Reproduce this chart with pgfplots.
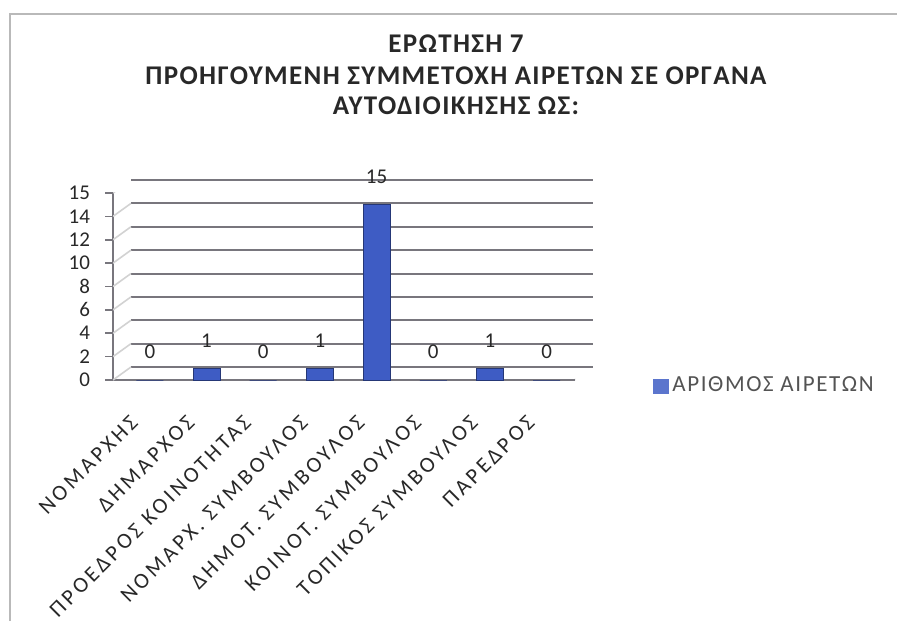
\documentclass[border=0pt]{standalone}
\usepackage{pgfplots}
\pgfplotsset{compat=1.18}
\usepackage{fontspec}
\setmainfont{Carlito}
\newfontfamily\titlefont[LetterSpace=5]{Carlito}
\newfontfamily\catfont[LetterSpace=15]{Carlito}
\newfontfamily\legfont[LetterSpace=7]{Carlito}
\definecolor{barblue}{RGB}{62,92,196}
\definecolor{gridgray}{RGB}{120,118,125}
\definecolor{txt}{RGB}{40,40,40}
\begin{document}
\begin{tikzpicture}[x=1pt,y=1pt]
\useasboundingbox (0,0) rectangle (448.5,310.5);
\draw[gray!55, line width=1pt] (5,0) -- (5,303.5) -- (448.5,303.5);
\node[font=\titlefont\fontsize{13.5}{15}\selectfont\bfseries, text=txt] at (228,288.5) {ΕΡΩΤΗΣΗ 7};
\node[font=\titlefont\fontsize{13.5}{15}\selectfont\bfseries, text=txt] at (228,272.5) {ΠΡΟΗΓΟΥΜΕΝΗ ΣΥΜΜΕΤΟΧΗ ΑΙΡΕΤΩΝ ΣΕ ΟΡΓΑΝΑ};
\node[font=\titlefont\fontsize{13.5}{15}\selectfont\bfseries, text=txt] at (228,257.5) {ΑΥΤΟΔΙΟΙΚΗΣΗΣ ΩΣ:};
\begin{axis}[
  at={(56.5pt,120.5pt)}, anchor=south west,
  scale only axis, width=231pt, height=93.5pt,
  xmin=-0.65, xmax=7.5, ymin=0, ymax=16,
  ytick={0,2,...,16}, yticklabels={0,2,4,6,8,10,12,14,15},
  xtick={0,...,7},
  xticklabels={ΝΟΜΑΡΧΗΣ, ΔΗΜΑΡΧΟΣ, ΠΡΟΕΔΡΟΣ ΚΟΙΝΟΤΗΤΑΣ, ΝΟΜΑΡΧ. ΣΥΜΒΟΥΛΟΣ, ΔΗΜΟΤ. ΣΥΜΒΟΥΛΟΣ, ΚΟΙΝΟΤ. ΣΥΜΒΟΥΛΟΣ, ΤΟΠΙΚΟΣ ΣΥΜΒΟΥΛΟΣ, ΠΑΡΕΔΡΟΣ},
  xticklabel style={rotate=45, anchor=north east, yshift=1.8pt, xshift=-13pt, font=\catfont\fontsize{11}{12}\selectfont, text=txt},
  yticklabel style={font=\fontsize{10.5}{11}\selectfont, text=txt, xshift=-4pt},
  /pgf/number format/assume math mode=true,
  axis x line*=bottom, axis y line*=left,
  axis line style={gridgray, line width=0.8pt},
  x axis line style={-}, y axis line style={-},
  xtick style={draw=none},
  ytick style={gridgray, line width=0.8pt},
  tick align=outside, major tick length=4pt,
  ymajorgrids, grid style={gridgray, line width=1pt, xshift=9pt, yshift=6.5pt},
  ybar, bar width=13.5pt,
  nodes near coords,
  every node near coord/.append style={font=\fontsize{10.5}{11}\selectfont, text=txt, yshift=7pt},
  legend style={at={(rel axis cs:1.167,-0.032)}, anchor=west, draw=none, fill=none, inner sep=0pt,
    font=\legfont\fontsize{11.5}{12}\selectfont, text=txt!80},
  legend image code/.code={\fill[barblue!85] (0pt,-3.5pt) rectangle (7.5pt,3.5pt);},
]
\addplot[fill=barblue, draw=barblue!60!black] coordinates {(0,0) (1,1) (2,0) (3,1) (4,15) (5,0) (6,1) (7,0)};
\addlegendentry{ΑΡΙΘΜΟΣ ΑΙΡΕΤΩΝ}
\draw[gridgray, line width=1pt] (axis cs:7.5,0) -- ([shift={(9pt,6.5pt)}]axis cs:7.5,0);
\pgfplotsinvokeforeach{0,2,...,16}{
  \draw[gray!35, line width=0.8pt] (axis cs:-0.65,#1) -- ([shift={(9pt,6.5pt)}]axis cs:-0.65,#1);
}
\end{axis}
\end{tikzpicture}
\end{document}
